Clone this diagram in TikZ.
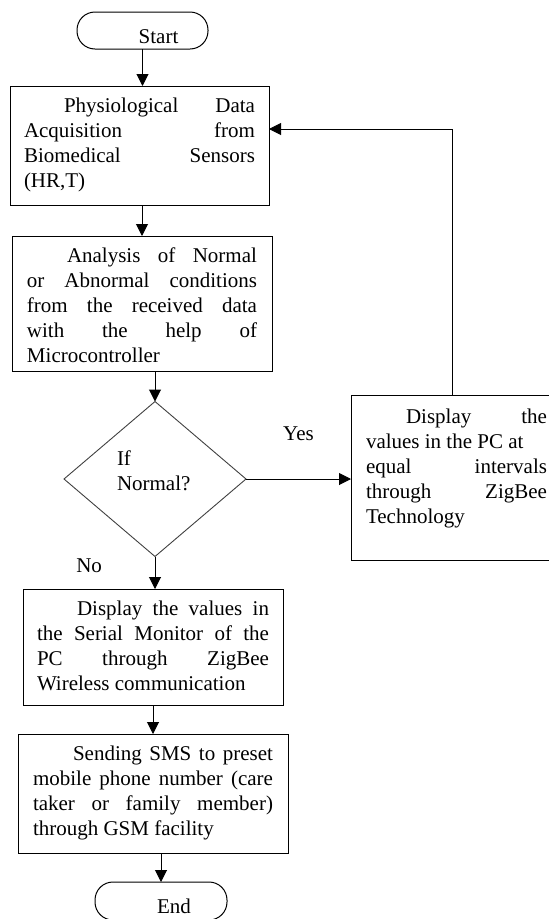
\documentclass[tikz,border=0pt]{standalone}
\usepackage{fontspec}
\setmainfont{Liberation Serif}
\usetikzlibrary{positioning,shapes.geometric,arrows.meta}
\tolerance=9999
\hbadness=10000

\begin{document}
\begin{tikzpicture}[x=1pt,y=-1pt,
  font=\fontsize{21}{25}\selectfont,
  every node/.style={outer sep=0pt},
  terminal/.style={draw,line width=1pt,rounded corners=18pt,inner sep=0pt,text depth=0pt},
  stepbox/.style={draw,line width=1pt,anchor=north west,inner ysep=0pt,align=justify},
  decision/.style={draw=black!75,line width=0.9pt,diamond,inner sep=0pt,align=left},
  flow/.style={line width=1pt,-{Triangle[length=12pt,width=12pt]}}]
  \path[use as bounding box] (0,0) rectangle (549,919);
  \node(start)[terminal,minimum width=131pt,minimum height=37pt,text height=25pt] at (142.5,30.5) {\hspace*{32pt}Start};
  \node(acq)[stepbox,inner xsep=14pt,text width=231pt,text height=26pt,text depth=93pt] at (10,86)
    {\hspace*{40pt}Physiological Data\linebreak Acquisition from\linebreak Biomedical Sensors\linebreak (HR,T)};
  \node(anl)[stepbox,inner xsep=15pt,text width=230pt,text height=26pt,text depth=109pt] at (12,236)
    {\hspace*{40pt}Analysis of Normal\linebreak or Abnormal conditions\linebreak from the received data\linebreak with the help of\linebreak Microcontroller};
  \node(dia)[decision,minimum width=182pt,minimum height=155pt,text width=76pt,text height=14pt,text depth=42pt] at (155,479)
    {If\\Normal?};
  \node(pcbox)[stepbox,inner xsep=15pt,text width=181pt,text height=28pt,text depth=137pt] at (351,395)
    {\hspace*{40pt}Display the\linebreak values in the PC at\newline equal intervals\linebreak through ZigBee\linebreak Technology};
  \node(ser)[stepbox,inner xsep=14pt,text width=232pt,text height=26pt,text depth=90pt] at (23,589)
    {\hspace*{40pt}Display the values in\linebreak the Serial Monitor of the\linebreak PC through ZigBee\linebreak Wireless communication};
  \node(sms)[stepbox,inner xsep=15pt,text width=240pt,text height=26pt,text depth=93pt] at (18,734)
    {\hspace*{40pt}Sending SMS to preset\linebreak mobile phone number (care\linebreak taker or family member)\linebreak through GSM facility};
  \node(stop)[terminal,minimum width=132pt,minimum height=38pt,text height=24pt] at (161,901) {\hspace*{26pt}End};
  \draw[flow] (start.south) -- (start.south |- acq.north);
  \draw[flow] (anl.north |- acq.south) -- (anl.north);
  \draw[flow] (dia.north |- anl.south) -- (dia.north);
  \draw[flow] (dia.east) -- (dia.east -| pcbox.west) node(yes)[pos=0.5,above=38pt,inner sep=0pt] {Yes};
  \draw[flow] (dia.south) -- (dia.south |- ser.north) node(no)[pos=0.5,anchor=base east,xshift=-53pt,inner sep=0pt] {No};
  \draw[flow] (ser.south) -- (ser.south |- sms.north);
  \draw[flow] (stop.north |- sms.south) -- (stop.north);
  \draw[flow] ([xshift=-4.5pt]pcbox.north) |- ([yshift=16.5pt]acq.east);
\end{tikzpicture}
\end{document}
